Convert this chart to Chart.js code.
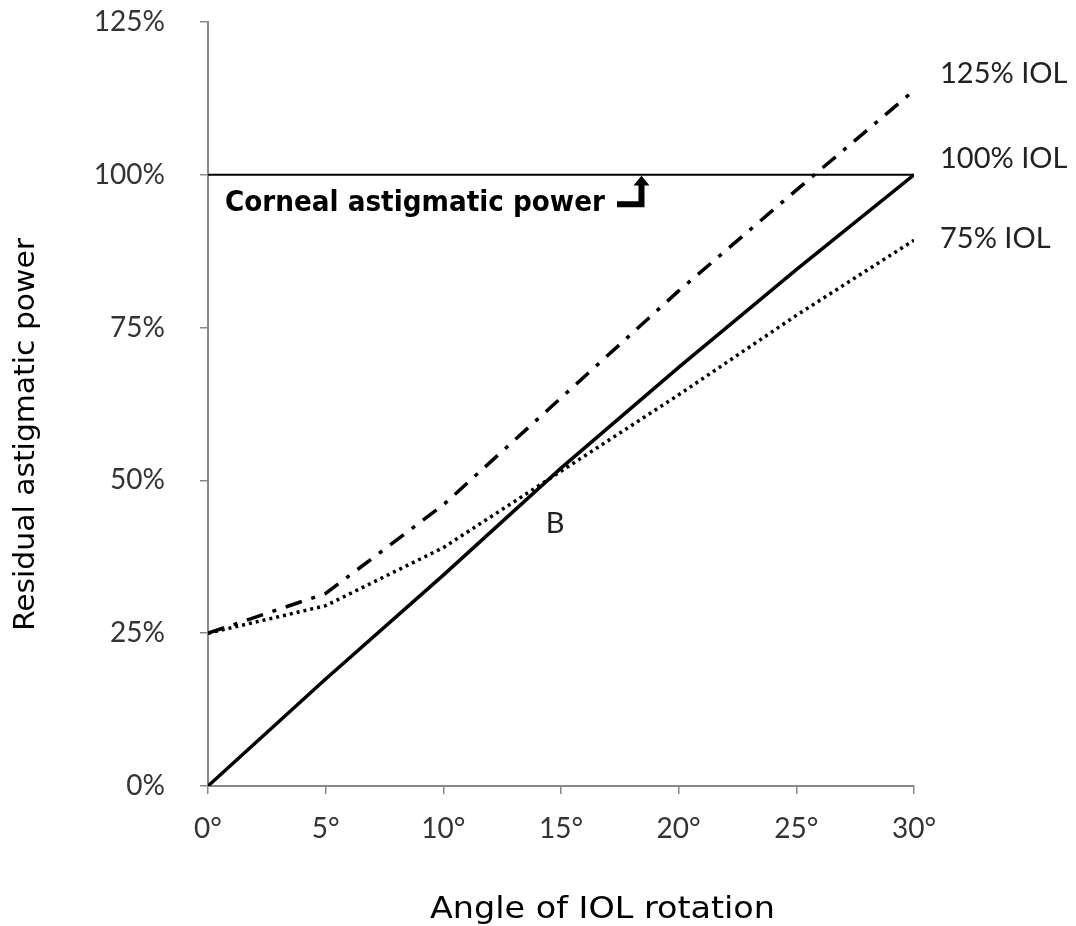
<!DOCTYPE html>
<html>
<head>
<meta charset="utf-8">
<script src="https://cdn.jsdelivr.net/npm/chart.js@4"></script>
<style>
  html, body { margin: 0; padding: 0; background: #fff; }
  #wrap { width: 1076px; height: 926px; }
</style>
</head>
<body>
<div id="wrap"><canvas id="chart" width="1076" height="926"></canvas></div>
<script>
// angle of IOL rotation (degrees)
const angles = [0, 5, 10, 15, 20, 25, 30];
// residual astigmatic power (%)
const iol125 = [25, 31.5, 46, 63.5, 81, 97.5, 113.8];
const iol100 = [0, 17.5, 34.5, 52, 68.5, 84.5, 100];
const iol75 = [25, 29.5, 39, 51.5, 64, 77, 89.3];
const cornealLine = [100, 100];
const cornealX = [0, 30];
const yTicks = [0, 25, 50, 75, 100, 125];

const seriesLabels = [
  { text: '125% IOL', y: 116.5 },
  { text: '100% IOL', y: 102.6 },
  { text: '75% IOL', y: 89.6 }
];

function pts(xs, ys) {
  return xs.map((x, i) => ({ x: x, y: ys[i] }));
}

const labelFont = "Lato, 'Open Sans', sans-serif";
const gothic = "'DejaVu Sans', sans-serif";

// draw text squeezed/stretched to a given width
function fitText(ctx, text, x, y, width) {
  const w = ctx.measureText(text).width;
  ctx.save();
  ctx.translate(x, y);
  ctx.scale(width / w, 1);
  ctx.fillText(text, 0, 0);
  ctx.restore();
}

// titles, text notes and arrow drawn on top of the chart
const notes = {
  id: 'notes',
  afterDatasetsDraw(chart) {
    const ctx = chart.ctx;
    const xs = chart.scales.x, ys = chart.scales.y;
    const area = chart.chartArea;
    ctx.save();
    ctx.fillStyle = '#222';
    ctx.textBaseline = 'middle';
    ctx.textAlign = 'left';
    ctx.font = '29px ' + labelFont;
    seriesLabels.forEach(l => {
      ctx.fillText(l.text, area.right + 26, ys.getPixelForValue(l.y));
    });
    ctx.fillText('B', xs.getPixelForValue(14.35), ys.getPixelForValue(43));

    ctx.fillStyle = '#000';
    ctx.textBaseline = 'alphabetic';
    ctx.font = 'bold 28px ' + gothic;
    fitText(ctx, 'Corneal astigmatic power', xs.getPixelForValue(0.72), ys.getPixelForValue(94.1), 380);

    // axis titles
    ctx.font = "28px 'DejaVu Sans Condensed', 'DejaVu Sans', sans-serif";
    ctx.save();
    ctx.translate(34, (area.top + area.bottom) / 2 + 31);
    ctx.rotate(-Math.PI / 2);
    fitText(ctx, 'Residual astigmatic power', -196, 0, 393);
    ctx.restore();

    ctx.font = '30px ' + gothic;
    fitText(ctx, 'Angle of IOL rotation', 430, 918, 345);

    // L-shaped arrow pointing up at the 100% line
    const ax0 = xs.getPixelForValue(17.38), ax1 = xs.getPixelForValue(18.42);
    const ay0 = ys.getPixelForValue(95.2), ay1 = ys.getPixelForValue(98.4);
    const tip = ys.getPixelForValue(99.85);
    ctx.strokeStyle = '#000';
    ctx.lineWidth = 6;
    ctx.beginPath();
    ctx.moveTo(ax0, ay0);
    ctx.lineTo(ax1, ay0);
    ctx.lineTo(ax1, ay1);
    ctx.stroke();
    ctx.beginPath();
    ctx.moveTo(ax1 - 8, ay1 + 1);
    ctx.lineTo(ax1 + 8, ay1 + 1);
    ctx.lineTo(ax1, tip);
    ctx.closePath();
    ctx.fill();
    ctx.restore();
  }
};

new Chart(document.getElementById('chart'), {
  type: 'line',
  data: {
    datasets: [
      {
        label: 'Corneal astigmatic power',
        data: pts(cornealX, cornealLine),
        borderColor: '#000',
        borderWidth: 2
      },
      {
        label: '125% IOL',
        data: pts(angles, iol125),
        borderColor: '#000',
        borderWidth: 3.5,
        borderDash: [17, 10, 4, 10]
      },
      {
        label: '100% IOL',
        data: pts(angles, iol100),
        borderColor: '#000',
        borderWidth: 3.5
      },
      {
        label: '75% IOL',
        data: pts(angles, iol75),
        borderColor: '#000',
        borderWidth: 3.5,
        borderDash: [3, 4]
      }
    ]
  },
  options: {
    responsive: false,
    animation: false,
    layout: { padding: { top: 22, right: 162, bottom: 0, left: 0 } },
    elements: { point: { radius: 0 }, line: { tension: 0, fill: false } },
    plugins: { legend: { display: false }, tooltip: { enabled: false } },
    scales: {
      x: {
        type: 'linear',
        min: 0,
        max: 30,
        afterFit(scale) {
          scale.height = 140;
          scale.paddingLeft = 0;
          scale.paddingRight = 0;
        },
        border: { color: '#888', width: 2 },
        grid: { drawOnChartArea: false, color: '#888', lineWidth: 1.5, tickLength: 8 },
        ticks: {
          stepSize: 5,
          padding: 18,
          color: '#333',
          font: { family: labelFont, size: 28 },
          callback: v => v + '°'
        }
      },
      y: {
        type: 'linear',
        min: 0,
        max: 125,
        afterFit(scale) {
          scale.width = 208;
          scale.paddingTop = 0;
          scale.paddingBottom = 0;
        },
        afterBuildTicks(scale) { scale.ticks = yTicks.map(v => ({ value: v })); },
        border: { color: '#888', width: 2 },
        grid: { drawOnChartArea: false, color: '#888', lineWidth: 1.5, tickLength: 8 },
        ticks: {
          padding: 35,
          color: '#333',
          font: { family: labelFont, size: 28 },
          callback: v => v + '%'
        }
      }
    }
  },
  plugins: [notes]
});
</script>
</body>
</html>
